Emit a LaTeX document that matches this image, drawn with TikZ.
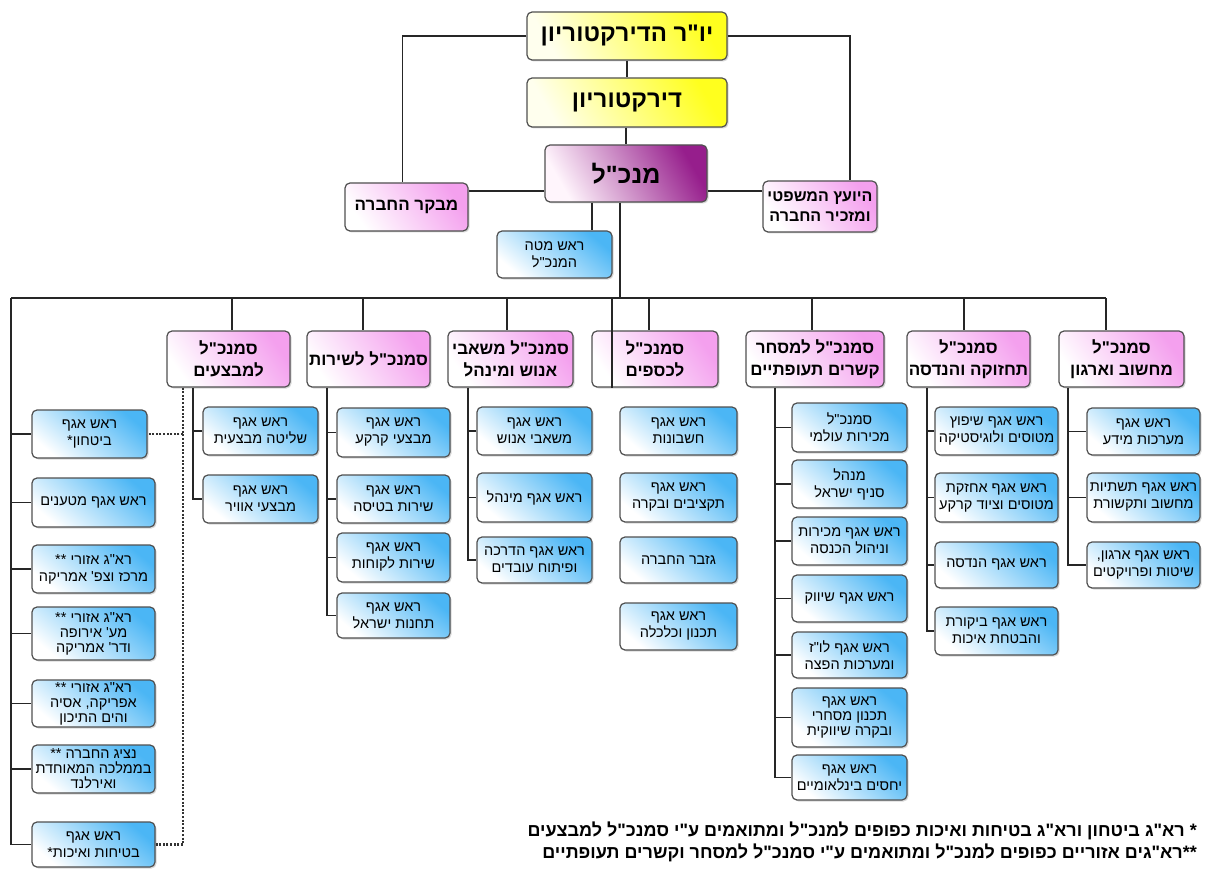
\documentclass[tikz,border=0pt]{standalone}
\usepackage{fontspec}
\usetikzlibrary{shadows}
\TeXXeTstate=1
\newfontfamily\hebfont[Script=Hebrew]{Liberation Sans}
\newcommand{\heb}[1]{\beginR #1\endR}
\newcommand{\bx}[7]{\node[#1, minimum width={#5-#3}, minimum height={#6-#4}] (#2) at ({(#3+#5)/2},{(#4+#6)/2}) {#7};}
\definecolor{bord}{RGB}{80,80,80}
\definecolor{yel}{RGB}{255,255,30}
\definecolor{yelL}{RGB}{255,255,238}
\definecolor{pur}{RGB}{150,30,140}
\definecolor{purL}{RGB}{255,245,252}
\definecolor{pnk}{RGB}{244,160,238}
\definecolor{blu}{RGB}{75,182,245}
\tikzset{
  box/.style={draw=bord, line width=1.2pt, rounded corners=5pt, inner sep=1pt, align=center, text=black,
    drop shadow={shadow xshift=1.5pt, shadow yshift=-1.5pt, opacity=.3}},
  ybox/.style={box, top color=yel, bottom color=yelL, shading angle=-60, font=\hebfont\bfseries\fontsize{24}{28}\selectfont},
  cbox/.style={box, top color=pur, bottom color=purL, shading angle=-60, font=\hebfont\bfseries\fontsize{25}{30}\selectfont},
  pbox/.style={box, top color=pnk, bottom color=white, shading angle=-55, font=\hebfont\bfseries\fontsize{17}{22}\selectfont},
  sbox/.style={box, top color=blu, bottom color=white, shading angle=-40, font=\hebfont\fontsize{14.5}{17}\selectfont},
  tbox/.style={box, top color=blu, bottom color=white, shading angle=-40, font=\hebfont\fontsize{14.5}{15}\selectfont},
  conn/.style={line width=1.2pt, draw=black!85},
  dots/.style={line width=2.4pt, draw=black!80, dash pattern=on 2pt off 1.6pt},
  note/.style={font=\hebfont\bfseries\fontsize{18}{20}\selectfont, anchor=east, inner sep=0pt}
}
\begin{document}
\begin{tikzpicture}[x=1pt, y=-1pt]
\fill[white] (0,0) rectangle (1210,869);
\useasboundingbox (0,0) rectangle (1210,869);
% top level
\bx{ybox}{chair}{527}{12}{727}{60}{\heb{יו"ר הדירקטוריון}}
\bx{ybox}{board}{527}{78}{727}{127}{\heb{דירקטוריון}}
\bx{cbox}{ceo}{545}{145}{707}{202}{\heb{מנכ"ל}}
\bx{pbox}{aud}{345}{183}{468}{231}{\heb{מבקר החברה}}
\bx{pbox, font=\hebfont\bfseries\fontsize{16}{20}\selectfont}{legal}{763}{181}{877}{232}{\heb{היועץ המשפטי}\\\heb{ומזכיר החברה}}
\bx{sbox}{cos}{497}{231}{612}{278}{\heb{ראש מטה}\\\heb{המנכ"ל}}
% headers
\bx{pbox}{h1}{167}{331}{290}{387}{\heb{סמנכ"ל}\\\heb{למבצעים}}
\bx{pbox}{h2}{307}{331}{430}{387}{\heb{סמנכ"ל לשירות}}
\bx{pbox}{h3}{448}{331}{573}{387}{\heb{סמנכ"ל משאבי}\\\heb{אנוש ומינהל}}
\bx{pbox}{h4}{592}{331}{718}{387}{\heb{סמנכ"ל}\\\heb{לכספים}}
\bx{pbox}{h5}{746}{331}{884}{387}{\heb{סמנכ"ל למסחר}\\\heb{קשרים תעופתיים}}
\bx{pbox}{h6}{907}{331}{1030}{387}{\heb{סמנכ"ל}\\\heb{תחזוקה והנדסה}}
\bx{pbox}{h7}{1059}{331}{1184}{387}{\heb{סמנכ"ל}\\\heb{מחשוב וארגון}}
% left column
\bx{sbox}{l1}{32}{410}{147}{458}{\heb{ראש אגף}\\\heb{ביטחון*}}
\bx{sbox}{l2}{32}{478}{155}{527}{\heb{ראש אגף מטענים}}
\bx{sbox}{l3}{32}{545}{155}{593}{\heb{רא"ג אזורי **}\\\heb{מרכז וצפ' אמריקה}}
\bx{tbox}{l4}{32}{607}{155}{660}{\heb{רא"ג אזורי **}\\\heb{מע' אירופה}\\\heb{ודר' אמריקה}}
\bx{tbox}{l5}{32}{680}{155}{727}{\heb{רא"ג אזורי **}\\\heb{אפריקה, אסיה}\\\heb{והים התיכון}}
\bx{tbox}{l6}{32}{745}{155}{793}{\heb{נציג החברה **}\\\heb{בממלכה המאוחדת}\\\heb{ואירלנד}}
\bx{sbox}{l7}{32}{822}{155}{867}{\heb{ראש אגף}\\\heb{בטיחות ואיכות*}}
% col 1
\bx{sbox}{a1}{203}{407}{318}{455}{\heb{ראש אגף}\\\heb{שליטה מבצעית}}
\bx{sbox}{a2}{203}{475}{318}{523}{\heb{ראש אגף}\\\heb{מבצעי אוויר}}
% col 2
\bx{sbox}{b1}{337}{408}{450}{457}{\heb{ראש אגף}\\\heb{מבצעי קרקע}}
\bx{sbox}{b2}{337}{475}{450}{523}{\heb{ראש אגף}\\\heb{שירות בטיסה}}
\bx{sbox}{b3}{337}{533}{450}{582}{\heb{ראש אגף}\\\heb{שירות לקוחות}}
\bx{sbox}{b4}{337}{593}{450}{638}{\heb{ראש אגף}\\\heb{תחנות ישראל}}
% col 3
\bx{sbox}{c1}{477}{407}{592}{455}{\heb{ראש אגף}\\\heb{משאבי אנוש}}
\bx{sbox}{c2}{477}{473}{592}{522}{\heb{ראש אגף מינהל}}
\bx{sbox}{c3}{477}{537}{592}{583}{\heb{ראש אגף הדרכה}\\\heb{ופיתוח עובדים}}
% col 4
\bx{sbox}{d1}{620}{407}{737}{455}{\heb{ראש אגף}\\\heb{חשבונות}}
\bx{sbox}{d2}{620}{473}{737}{522}{\heb{ראש אגף}\\\heb{תקציבים ובקרה}}
\bx{sbox}{d3}{620}{537}{737}{583}{\heb{גזבר החברה}}
\bx{sbox}{d4}{620}{603}{737}{650}{\heb{ראש אגף}\\\heb{תכנון וכלכלה}}
% col 5
\bx{sbox}{e1}{792}{403}{907}{452}{\heb{סמנכ"ל}\\\heb{מכירות עולמי}}
\bx{sbox}{e2}{792}{460}{907}{508}{\heb{מנהל}\\\heb{סניף ישראל}}
\bx{sbox}{e3}{792}{517}{907}{565}{\heb{ראש אגף מכירות}\\\heb{וניהול הכנסה}}
\bx{sbox}{e4}{792}{575}{907}{622}{\heb{ראש אגף שיווק}}
\bx{sbox}{e5}{792}{632}{907}{678}{\heb{ראש אגף לו"ז}\\\heb{ומערכות הפצה}}
\bx{tbox}{e6}{792}{688}{907}{747}{\heb{ראש אגף}\\\heb{תכנון מסחרי}\\\heb{ובקרה שיווקית}}
\bx{sbox}{e7}{792}{755}{907}{800}{\heb{ראש אגף}\\\heb{יחסים בינלאומיים}}
% col 6
\bx{sbox}{f1}{935}{407}{1058}{455}{\heb{ראש אגף שיפוץ}\\\heb{מטוסים ולוגיסטיקה}}
\bx{sbox}{f2}{935}{473}{1058}{522}{\heb{ראש אגף אחזקת}\\\heb{מטוסים וציוד קרקע}}
\bx{sbox}{f3}{935}{542}{1058}{588}{\heb{ראש אגף הנדסה}}
\bx{sbox}{f4}{935}{607}{1058}{655}{\heb{ראש אגף ביקורת}\\\heb{והבטחת איכות}}
% col 7
\bx{sbox}{g1}{1087}{408}{1200}{455}{\heb{ראש אגף}\\\heb{מערכות מידע}}
\bx{sbox}{g2}{1087}{473}{1200}{522}{\heb{ראש אגף תשתיות}\\\heb{מחשוב ותקשורת}}
\bx{sbox}{g3}{1087}{542}{1200}{588}{\heb{ראש אגף ארגון,}\\\heb{שיטות ופרויקטים}}
% top connectors
\coordinate (ly) at (0,191);
\coordinate (cx) at (592,0);
\coordinate (mv) at (620,298);
\coordinate (busL) at (11,298);
\coordinate (busR) at (1106,298);
\draw[conn] (chair.west) -| ([xshift=-4pt]aud.north);
\draw[conn] (chair.east) -| ([xshift=30pt]legal.north);
\draw[conn] (chair) -- (board);
\draw[conn] (board.south -| ceo.north) -- (ceo.north);
\draw[conn] (ceo.west |- ly) -- (aud.east |- ly);
\draw[conn] (ceo.east |- ly) -- (legal.west |- ly);
\draw[conn] (ceo.south -| cx) -- (cos.north -| cx);
\draw[conn] (ceo.south -| mv) -- (mv);
\draw[conn] (busL) -- (busR);
% drops to headers
\coordinate (d1) at (232,298);
\coordinate (d2) at (363,298);
\coordinate (d3) at (507,298);
\coordinate (d4) at (649,298);
\coordinate (d5) at (812,298);
\coordinate (d6) at (964,298);
\coordinate (d7) at (1106,298);
\foreach \i in {1,...,7} {\draw[conn] (d\i) -- (d\i |- h\i.north);}
% spines
\coordinate (s1) at (193,0);
\coordinate (s2) at (327,0);
\coordinate (s3) at (468,0);
\coordinate (s4) at (612,0);
\coordinate (s5) at (775,0);
\coordinate (s6) at (927,0);
\coordinate (s7) at (1068,0);
\draw[conn] (s1 |- h1.south) |- (a2.west);
\draw[conn] (s1 |- a1.west) -- (a1.west);
\draw[conn] (s2 |- h2.south) |- (b4.west);
\foreach \n in {b1,b2,b3} {\draw[conn] (s2 |- \n.west) -- (\n.west);}
\draw[conn] (s3 |- h3.south) |- (c3.west);
\foreach \n in {c1,c2} {\draw[conn] (s3 |- \n.west) -- (\n.west);}
\draw[conn] (s4 |- h4.south) |- (d4.west);
\foreach \n in {d1,d2,d3} {\draw[conn] (s4 |- \n.west) -- (\n.west);}
\draw[conn] (s5 |- h5.south) |- (e7.west);
\foreach \n in {e1,e2,e3,e4,e5,e6} {\draw[conn] (s5 |- \n.west) -- (\n.west);}
\draw[conn] (s6 |- h6.south) |- (f4.west);
\foreach \n in {f1,f2,f3} {\draw[conn] (s6 |- \n.west) -- (\n.west);}
\draw[conn] (s7 |- h7.south) |- (g3.west);
\foreach \n in {g1,g2} {\draw[conn] (s7 |- \n.west) -- (\n.west);}
% left column
\draw[conn] (busL) |- (l7.west);
\foreach \n in {l1,l2,l3,l4,l5,l6} {\draw[conn] (busL |- \n.west) -- (\n.west);}
% dotted coordination line
\coordinate (dx) at (183,0);
\draw[dots] (dx |- h1.south) |- (l7.east);
\draw[dots] (dx |- l1.east) -- (l1.east);
% notes
\node[note] (n1) at (1197,831) {\heb{* רא"ג ביטחון ורא"ג בטיחות ואיכות כפופים למנכ"ל ומתואמים ע"י סמנכ"ל למבצעים}};
\node[note] (n2) at (1197,853) {\heb{**רא"גים אזוריים כפופים למנכ"ל ומתואמים ע"י סמנכ"ל למסחר וקשרים תעופתיים}};
\end{tikzpicture}
\end{document}
